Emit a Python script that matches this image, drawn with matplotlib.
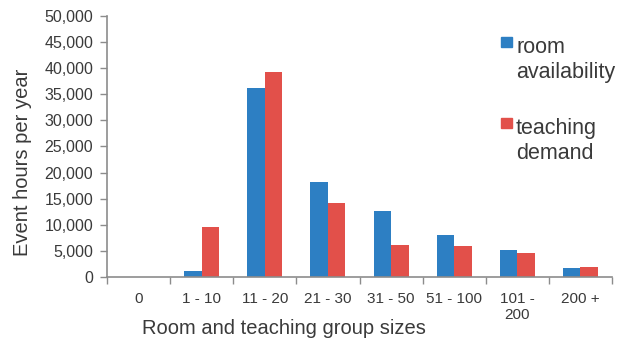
import matplotlib
matplotlib.use("Agg")
import matplotlib.pyplot as plt
from matplotlib.patches import Rectangle
import numpy as np

plt.rcParams['font.family'] = ['Liberation Sans', 'DejaVu Sans']

# room / group size bands
groups = ["0", "1 - 10", "11 - 20", "21 - 30", "31 - 50", "51 - 100", "101 -\n200", "200 +"]
room_availability = [0, 1150, 36200, 18200, 12650, 8050, 5150, 1700]
teaching_demand = [0, 9600, 39300, 14150, 6100, 5900, 4600, 1900]
yticks = np.arange(0, 50001, 5000)

blue = "#2d7fc3"
red = "#e2504a"
grey = "#8c8c8c"
txt = "#3a3a3a"

fig = plt.figure(figsize=(6.21, 3.40), dpi=100)
ax = fig.add_axes([107 / 621, 1 - 277 / 340, 505 / 621, 261 / 340])

x = np.arange(len(groups))
w = 0.277
ax.bar(x - w / 2, room_availability, w, color=blue)
ax.bar(x + w / 2, teaching_demand, w, color=red)

ax.set_xlim(-0.5, len(groups) - 0.5)
ax.set_ylim(0, 50000)
ax.set_yticks(yticks)
ax.set_yticklabels([f"{v:,}" for v in yticks])

# boundary ticks between bands, labels at the band centres
ax.set_xticks(np.arange(-0.5, len(groups), 1.0))
ax.set_xticklabels([])
ax.set_xticks(x, minor=True)
ax.set_xticklabels(groups, minor=True, fontsize=11)
ax.tick_params(axis='x', which='minor', length=0, pad=11, colors=txt)
ax.tick_params(axis='x', which='major', length=5, width=1, color=grey)
ax.tick_params(axis='y', length=5, width=1, color=grey, labelcolor=txt, labelsize=11.5, pad=5)

for s in ["top", "right"]:
    ax.spines[s].set_visible(False)
for s in ["left", "bottom"]:
    ax.spines[s].set_color(grey)
    ax.spines[s].set_linewidth(1.2)

ax.set_xlabel("Room and teaching group sizes", fontsize=14.5, color=txt)
ax.xaxis.set_label_coords(0.35, -0.16)
ax.set_ylabel("Event hours per year", fontsize=14.5, color=txt)
ax.yaxis.set_label_coords(-0.148, 0.44)

# legend, drawn by hand so the swatch sits beside the first line
entries = [("room\navailability", blue, 37), ("teaching\ndemand", red, 118)]
for label, col, ytop in entries:
    fig.patches.append(Rectangle((501 / 621, 1 - (ytop + 10) / 340), 11 / 621, 10 / 340,
                                 transform=fig.transFigure, color=col))
    fig.text(516 / 621, 1 - ytop / 340, label, fontsize=15.5, color=txt,
             va='top', ha='left', linespacing=1.25)

fig.savefig("out.png", dpi=100)
